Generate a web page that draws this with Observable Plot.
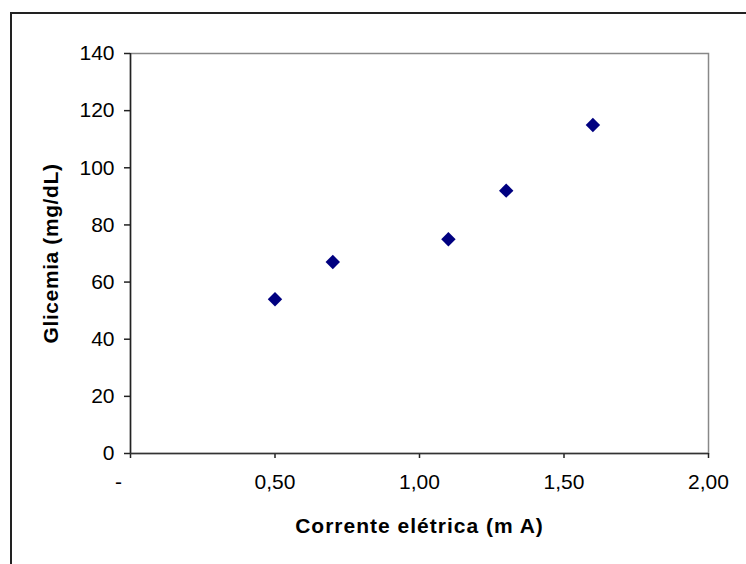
<!DOCTYPE html>
<html>
<head>
<meta charset="utf-8">
<script src="https://cdn.jsdelivr.net/npm/d3@7"></script>
<script src="https://cdn.jsdelivr.net/npm/@observablehq/plot@0.6"></script>
<style>
  html, body { margin: 0; padding: 0; background: #fff; overflow: hidden; }
  #wrap { position: relative; width: 746px; height: 564px; overflow: hidden; }
  #outer { position: absolute; left: 10px; top: 12px; width: 800px; height: 700px;
           border: 2px solid #222; box-sizing: border-box; pointer-events: none; }
  #chart { position: absolute; left: 0; top: 0; }
  .xlab text { letter-spacing: 1px; }
  .ylab text { letter-spacing: 0.6px; }
</style>
</head>
<body>
<div id="wrap"><div id="chart"></div><div id="outer"></div></div>
<script>
const corrente = [0.5, 0.7, 1.1, 1.3, 1.6];
const glicemia = [54, 67, 75, 92, 115];
const xTicks = [0, 0.5, 1.0, 1.5, 2.0];
const xLabelTicks = [0.5, 1.0, 1.5, 2.0];
const yTicks = [0, 20, 40, 60, 80, 100, 120, 140];
const xLabel = "Corrente elétrica (m A)";
const yLabel = "Glicemia (mg/dL)";

const data = corrente.map((c, i) => ({x: c, y: glicemia[i]}));
const fmt = d => d.toFixed(2).replace(".", ",");
const font = "'Liberation Sans', Arial, sans-serif";

const chart = Plot.plot({
  width: 746,
  height: 564,
  marginLeft: 130,
  marginRight: 38,
  marginTop: 53,
  marginBottom: 111,
  x: {domain: [0, 2]},
  y: {domain: [0, 140]},
  style: {fontFamily: font, fontSize: "21px", color: "#000", background: "transparent"},
  marks: [
    Plot.frame({stroke: "#888", strokeWidth: 1.5}),
    Plot.axisY({ticks: yTicks, tickSize: 6, tickPadding: 10, label: null, tickFormat: d => String(d), stroke: "#222", strokeWidth: 1.5}),
    Plot.axisX({ticks: xTicks, tickSize: 5, text: null, label: null, stroke: "#222", strokeWidth: 1.5}),
    Plot.axisX({ticks: xLabelTicks, tickSize: 0, tickPadding: 21, label: null, tickFormat: fmt}),
    Plot.axisX({ticks: [0], tickSize: 0, tickPadding: 21, label: null, tickFormat: () => "-", dx: -12}),
    Plot.ruleX([0], {stroke: "#222", strokeWidth: 1.5}),
    Plot.ruleY([0], {stroke: "#333", strokeWidth: 1.5}),
    Plot.dot(data, {x: "x", y: "y", symbol: "diamond2", r: 6.5, fill: "#000080", stroke: "none"}),
    Plot.text([xLabel], {frameAnchor: "bottom", lineAnchor: "middle", textAnchor: "middle", dy: 73, text: d => d, fontWeight: "bold", fontSize: 21, fill: "#000", className: "xlab"}),
    Plot.text([yLabel], {frameAnchor: "left", lineAnchor: "middle", textAnchor: "middle", dx: -79, rotate: -90, text: d => d, fontWeight: "bold", fontSize: 21, fill: "#000", className: "ylab"})
  ]
});
document.getElementById("chart").appendChild(chart);
</script>
</body>
</html>
